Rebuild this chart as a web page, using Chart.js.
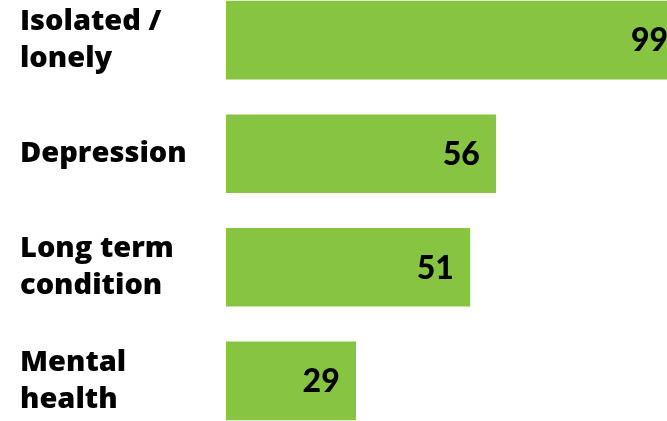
<!DOCTYPE html>
<html>
<head>
<meta charset="utf-8">
<script src="https://cdn.jsdelivr.net/npm/chart.js@4/dist/chart.umd.min.js"></script>
<style>
	html, body { margin: 0; padding: 0; background: #fff; }
	#wrap { width: 667px; height: 421px; }
</style>
</head>
<body>
<div id="wrap"><canvas id="reasons-chart"></canvas></div>
<script>
const labels = [['Isolated /', 'lonely'], 'Depression', ['Long term', 'condition'], ['Mental', 'health']];
const values = [99, 56, 51, 29];
const green = '#86c441';

// draws the value inside the end of each bar
const valueLabels = {
	id: 'valueLabels',
	afterDatasetsDraw(chart) {
		const { ctx, chartArea } = chart;
		const meta = chart.getDatasetMeta(0);
		ctx.save();
		ctx.font = '900 32px Lato';
		ctx.fillStyle = '#000';
		ctx.textAlign = 'right';
		ctx.textBaseline = 'middle';
		meta.data.forEach((bar, i) => {
			const x = Math.min(bar.x - 16, chartArea.right + 1);
			ctx.fillText(String(values[i]), x, bar.y + 1);
		});
		ctx.restore();
	}
};

new Chart(document.getElementById('reasons-chart'), {
	type: 'bar',
	data: {
		labels,
		datasets: [{
			data: values,
			backgroundColor: green,
			borderWidth: 0,
			barThickness: 78,
			clip: { left: 0, top: false, right: 0, bottom: false }
		}]
	},
	options: {
		indexAxis: 'y',
		responsive: true,
		maintainAspectRatio: false,
		animation: false,
		layout: { padding: { top: 38, bottom: 37, left: 20, right: 0 } },
		plugins: { legend: { display: false }, tooltip: { enabled: false } },
		scales: {
			x: { display: false, min: 4, max: 89 },
			y: {
				offset: false,
				grid: { display: false },
				border: { display: false },
				afterFit(scale) { scale.width = 206; },
				ticks: {
					crossAlign: 'far',
					color: '#000',
					font: { family: 'Open Sans', weight: '800', size: 29, lineHeight: 1.28 }
				}
			}
		}
	},
	plugins: [valueLabels]
});
</script>
</body>
</html>
